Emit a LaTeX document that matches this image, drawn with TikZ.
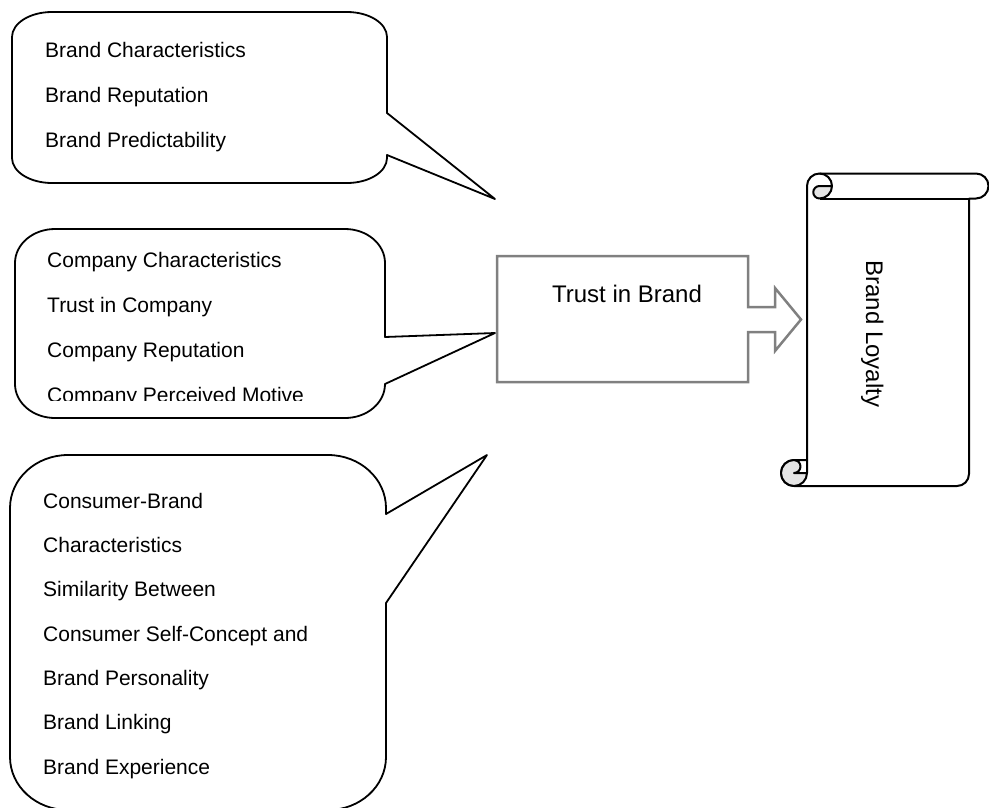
\documentclass[tikz,border=0pt]{standalone}
\usepackage{fontspec}
\setmainfont{Liberation Sans}
\begin{document}
\begin{tikzpicture}[x=1pt,y=-1pt,line join=round,
  callout/.style={draw=black,line width=1.8,fill=white},
  lbl/.style={anchor=base west,inner sep=0,font=\fontsize{21}{25}\selectfont},
  big/.style={inner sep=0,font=\fontsize{24}{28}\selectfont},
  scrollline/.style={draw=black,line width=2},
  rollfill/.style={draw=black,line width=2,fill=gray!20}]
\useasboundingbox (0,0) rectangle (989,807);
\clip (0,0) rectangle (989,807);

% callout 1
\draw[callout] (52,12) -- (347,12) arc[start angle=270,end angle=360,x radius=40,y radius=25]
  -- (387,113) -- (495,199) -- (387,155) -- (387,158)
  arc[start angle=0,end angle=90,x radius=40,y radius=25] -- (52,183)
  arc[start angle=90,end angle=180,x radius=40,y radius=25] -- (12,37)
  arc[start angle=180,end angle=270,x radius=40,y radius=25] -- cycle;
\node[lbl] (b1) at (45,57) {Brand Characteristics};
\node[lbl] (b2) at (45,102) {Brand Reputation};
\node[lbl] (b3) at (45,147) {Brand Predictability};

% callout 2
\draw[callout] (55,229) -- (345,229) arc[start angle=270,end angle=360,x radius=40,y radius=34]
  -- (385,337) -- (495,333) -- (385,384)
  arc[start angle=0,end angle=90,x radius=40,y radius=34] -- (55,418)
  arc[start angle=90,end angle=180,x radius=40,y radius=34] -- (15,263)
  arc[start angle=180,end angle=270,x radius=40,y radius=34] -- cycle;
\begin{scope}
\clip (15,229) rectangle (385,400);
\node[lbl] (k1) at (47,267) {Company Characteristics};
\node[lbl] (k2) at (47,312) {Trust in Company};
\node[lbl] (k3) at (47,357) {Company Reputation};
\node[lbl] (k4) at (47,402) {Company Perceived Motive};
\end{scope}

% callout 3
\draw[callout] (68,455) -- (328,455) arc[start angle=270,end angle=360,x radius=58,y radius=53]
  -- (386,514) -- (487,455) -- (386,603) -- (386,757)
  arc[start angle=0,end angle=90,x radius=58,y radius=53] -- (68,810)
  arc[start angle=90,end angle=180,x radius=58,y radius=53] -- (10,508)
  arc[start angle=180,end angle=270,x radius=58,y radius=53] -- cycle;
\node[lbl] (m1) at (43,508) {Consumer-Brand};
\node[lbl] (m2) at (43,552) {Characteristics};
\node[lbl] (m3) at (43,596.5) {Similarity Between};
\node[lbl] (m4) at (43,641) {Consumer Self-Concept and};
\node[lbl] (m5) at (43,685) {Brand Personality};
\node[lbl] (m6) at (43,729.5) {Brand Linking};
\node[lbl] (m7) at (43,774) {Brand Experience};

% Trust in Brand arrow box
\draw[draw=black!50,line width=2.5,fill=white,line join=miter]
  (497,256) -- (748,256) -- (748,307) -- (775,307) -- (775,288) -- (801,319.5)
  -- (775,351) -- (775,332) -- (748,332) -- (748,382) -- (497,382) -- cycle;
\node[big,anchor=base] (trust) at (627,302) {Trust in Brand};

% scroll
\draw[scrollline,fill=white] (807,186) arc[start angle=180,end angle=270,radius=12.5]
  -- (976,173.5) arc[start angle=270,end angle=450,radius=12.5]
  -- (969,198.5) -- (969,474) arc[start angle=0,end angle=90,radius=12]
  -- (794,486) arc[start angle=90,end angle=270,radius=13] -- (807,460) -- cycle;
\draw[scrollline] (819.5,198.5) -- (969,198.5);
\draw[scrollline] (819.5,173.5) arc[start angle=270,end angle=360,radius=12.5];
\draw[rollfill] (832,186) arc[start angle=0,end angle=90,radius=12.5]
  arc[start angle=90,end angle=270,radius=6.25] -- cycle;
\draw[rollfill] (794,473) circle[radius=13];
\draw[scrollline,fill=white] (794,460) -- (807,460) -- (807,473) -- (794,473)
  arc[start angle=90,end angle=-90,radius=6.5] -- cycle;
\node[big,rotate=-90,anchor=base] (loyal) at (866,334) {Brand Loyalty};
\end{tikzpicture}
\end{document}
